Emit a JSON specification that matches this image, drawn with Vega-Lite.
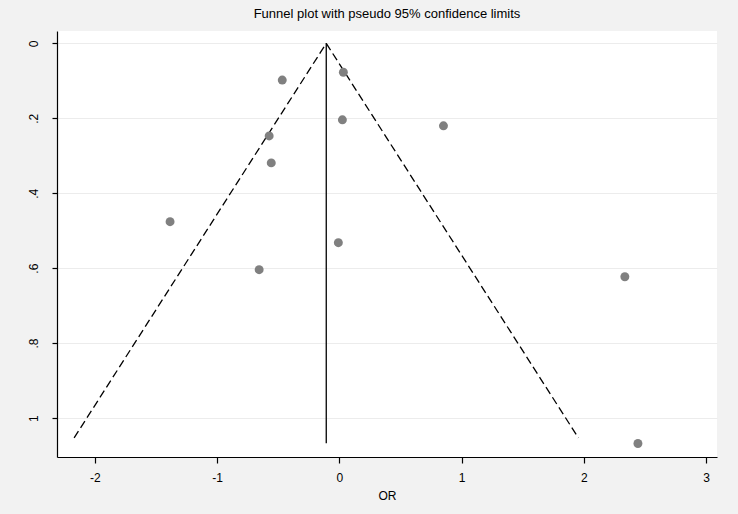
{
  "$schema": "https://vega.github.io/schema/vega-lite/v6.json",
  "width": 660,
  "height": 426,
  "autosize": {"type": "none"},
  "padding": {"left": 57, "top": 31, "right": 21, "bottom": 57},
  "background": "#f2f2f2",
  "config": {
    "view": {"fill": "white", "stroke": null},
    "font": "Liberation Sans",
    "axis": {"domainColor": "#000000", "tickColor": "#000000", "labelColor": "#000000", "titleColor": "#000000", "labelFontSize": 12, "domainWidth": 1.2, "tickWidth": 1.2}
  },
  "title": {"text": "Funnel plot with pseudo 95% confidence limits", "fontSize": 13, "fontWeight": "normal", "anchor": "middle", "offset": 10, "color": "#000000"},
  "datasets": {
    "studies": [
      {"or": 0.033, "se": 0.077},
      {"or": -0.467, "se": 0.098},
      {"or": 0.025, "se": 0.204},
      {"or": 0.852, "se": 0.22},
      {"or": -0.574, "se": 0.247},
      {"or": -0.557, "se": 0.319},
      {"or": -1.385, "se": 0.476},
      {"or": -0.008, "se": 0.532},
      {"or": -0.656, "se": 0.604},
      {"or": 2.336, "se": 0.623},
      {"or": 2.443, "se": 1.068}
    ],
    "funnel": [
      {"side": "lower", "x": -0.107, "se": 0},
      {"side": "lower", "x": -2.17, "se": 1.053},
      {"side": "upper", "x": -0.107, "se": 0},
      {"side": "upper", "x": 1.956, "se": 1.053}
    ],
    "center": [
      {"x": -0.107, "se0": 0, "se1": 1.067}
    ]
  },
  "layer": [
    {
      "data": {"name": "funnel"},
      "mark": {"type": "line", "color": "#000000", "strokeWidth": 1.3, "strokeDash": [8, 4]},
      "encoding": {
        "x": {"field": "x", "type": "quantitative", "scale": {"domain": [-2.31, 3.09], "nice": false, "zero": false},
          "axis": {"values": [-2, -1, 0, 1, 2, 3], "grid": false, "tickSize": 6, "labelPadding": 9, "title": "OR", "titleFontSize": 12, "titleFontWeight": "normal", "titlePadding": 7,
            "labelExpr": "'' + datum.value"}},
        "y": {"field": "se", "type": "quantitative", "scale": {"domain": [-0.033, 1.104], "nice": false, "zero": false, "reverse": true},
          "axis": {"values": [0, 0.2, 0.4, 0.6, 0.8, 1], "grid": true, "gridColor": "#ececec", "gridWidth": 1, "tickSize": 5, "labelAngle": -90, "labelPadding": 12, "title": null,
            "labelExpr": "datum.value == 0 ? '0' : (datum.value == 1 ? '1' : substring(format(datum.value, '.1f'), 1))"}},
        "detail": {"field": "side"}
      }
    },
    {
      "data": {"name": "center"},
      "mark": {"type": "rule", "color": "#000000", "strokeWidth": 1.3},
      "encoding": {
        "x": {"field": "x", "type": "quantitative"},
        "y": {"field": "se0", "type": "quantitative"},
        "y2": {"field": "se1"}
      }
    },
    {
      "data": {"name": "studies"},
      "mark": {"type": "point", "filled": true, "color": "#808080", "opacity": 1, "size": 80},
      "encoding": {
        "x": {"field": "or", "type": "quantitative"},
        "y": {"field": "se", "type": "quantitative"}
      }
    }
  ]
}
